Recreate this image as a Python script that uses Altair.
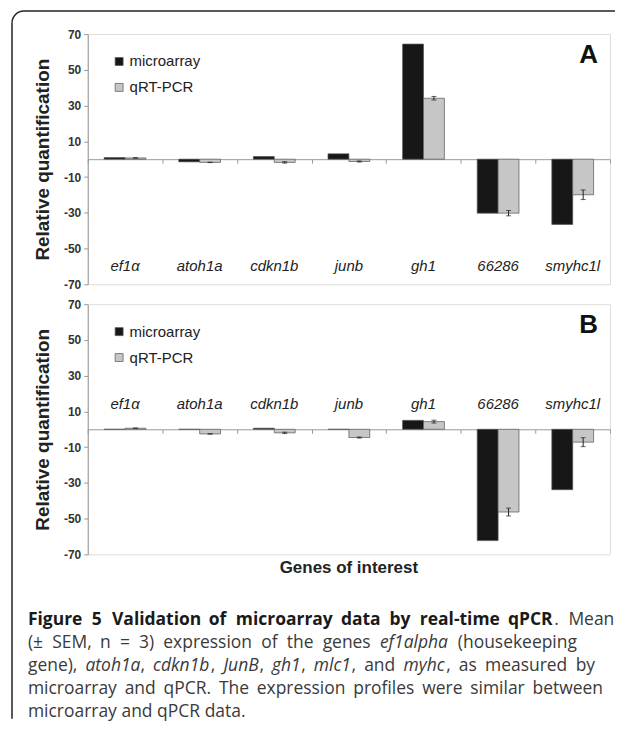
import altair as alt
import pandas as pd

genes = ["ef1α", "atoh1a", "cdkn1b", "junb", "gh1", "66286", "smyhc1l"]
series = ["microarray", "qRT-PCR"]

a_micro = [0.9, -1.5, 1.5, 3.0, 64.4, -30.2, -36.5]
a_qpcr = [0.7, -1.8, -1.8, -1.3, 34.1, -30.2, -19.9]
a_err = [0.1, 0.1, 0.4, 0.3, 1.0, 1.5, 2.7]

b_micro = [0.0, 0.0, 0.6, 0.0, 5.0, -62.3, -33.8]
b_qpcr = [0.6, -2.6, -2.0, -4.6, 4.3, -46.3, -7.2]
b_err = [0.1, 0.1, 0.4, 0.3, 0.8, 2.2, 2.5]

y_ticks = [-70, -50, -30, -10, 10, 30, 50, 70]

# caption: list of lines, each a list of (text, style)
caption_lines = [
    [("Figure 5 Validation of microarray data by real-time qPCR", "bold"), (". Mean", "normal")],
    [("(± SEM, n = 3) expression of the genes ", "normal"), ("ef1alpha", "italic"), (" (housekeeping", "normal")],
    [("gene), ", "normal"), ("atoh1a", "italic"), (", ", "normal"), ("cdkn1b", "italic"), (", ", "normal"),
     ("JunB", "italic"), (", ", "normal"), ("gh1", "italic"), (", ", "normal"), ("mlc1", "italic"),
     (", and ", "normal"), ("myhc", "italic"), (", as measured by", "normal")],
    [("microarray and qPCR. The expression profiles were similar between", "normal")],
    [("microarray and qPCR data.", "normal")],
]

# ---- layout (page pixels) ----
W, H = 524, 251
PX, PY_TOP, PY_BOT = 87, 32, 303
FONT = "Liberation Sans"
CAP_FONT, CAP_SIZE = "Open Sans", 17.5
cap_left = 27
cap_y = [620, 643, 666, 689, 712]
cap_right = [615, 578, 596, 604, None]  # line ends

_W = {' ': 532, ',': 502, '.': 545, '(': 608, ')': 608, '±': 1171, '=': 1171, '-': 659,
      'a': 1139, 'b': 1255, 'c': 975, 'd': 1255, 'e': 1149, 'f': 694, 'g': 1122, 'h': 1257, 'i': 518,
      'j': 518, 'k': 1075, 'l': 518, 'm': 1905, 'n': 1257, 'o': 1237, 'p': 1255, 'q': 1255, 'r': 836,
      's': 977, 't': 723, 'u': 1257, 'v': 1026, 'w': 1593, 'x': 1073, 'y': 1028,
      'S': 1096, 'E': 1139, 'M': 1808, 'B': 1300, 'C': 1298, 'J': 545, 'P': 1217, 'R': 1282, 'T': 1124,
      'F': 1059, 'V': 1208}
_STYLE_K = {"normal": 1.0, "italic": 0.97, "bold": 1.075}


def text_w(s, style):
    tot = 0
    for ch in s:
        tot += _W.get(ch, 1171 if ch.isdigit() else 1150)
    return tot / 2048 * CAP_SIZE * _STYLE_K[style]


def layout_line(segs, left, right):
    tokens, cur = [], []
    for text, style in segs:
        parts = text.split(" ")
        for i, p in enumerate(parts):
            if i > 0:
                if cur:
                    tokens.append(cur)
                cur = []
            if p:
                cur.append((p, style))
    if cur:
        tokens.append(cur)
    sp = text_w(" ", "normal")
    natural = sum(text_w(p, s) for tok in tokens for p, s in tok) + sp * (len(tokens) - 1)
    extra = 0.0
    if right is not None and len(tokens) > 1:
        extra = (right - left - natural) / (len(tokens) - 1)
    out, x = [], left
    for tok in tokens:
        for p, s in tok:
            out.append((p, s, x))
            x += text_w(p, s)
        x += sp + extra
    return out


def frame(micro, qpcr, err):
    rows = []
    for g, m, q, e in zip(genes, micro, qpcr, err):
        rows.append({"gene": g, "series": "microarray", "value": m, "lo": None, "hi": None})
        rows.append({"gene": g, "series": "qRT-PCR", "value": q, "lo": q - e, "hi": q + e})
    return pd.DataFrame(rows)


def panel(micro, qpcr, err, letter, label_y):
    df = frame(micro, qpcr, err)
    xenc = alt.X("gene:N", sort=genes, scale=alt.Scale(paddingInner=0, paddingOuter=0),
                 axis=alt.Axis(orient="bottom", offset=-H / 2, title=None, labels=False,
                               domainColor="#9a9a9a", tickColor="#9a9a9a", tickSize=4,
                               tickBand="extent", domainWidth=1, tickWidth=1))
    xoff = alt.XOffset("series:N", sort=series, scale=alt.Scale(domain=series, paddingOuter=0.786, paddingInner=0))
    yscale = alt.Scale(domain=[-70, 70], nice=False, zero=False)
    yaxis = alt.Axis(values=y_ticks, grid=False, tickSize=4, domainColor="#9a9a9a", tickColor="#9a9a9a",
                     labelFont=FONT, labelFontWeight="bold", labelFontSize=12, labelColor="#333",
                     labelPadding=3, labelOverlap=False, labelFlush=False, labelExpr="'' + datum.value",
                     title="Relative quantification", titleFont=FONT,
                     titleFontWeight="bold", titleFontSize=19, titleColor="#222", titlePadding=11)
    base = alt.Chart(df)
    bars = base.mark_bar(stroke="#555", strokeWidth=0.7).encode(
        x=xenc, xOffset=xoff,
        y=alt.Y("value:Q", scale=yscale, axis=yaxis),
        y2=alt.datum(0),
        color=alt.Color("series:N", sort=series,
                        scale=alt.Scale(domain=series, range=["#171717", "#c6c6c6"]),
                        legend=alt.Legend(title=None, orient="none", legendX=24, legendY=20,
                                          symbolType="square", symbolSize=64, symbolStrokeColor="#555",
                                          symbolStrokeWidth=0.7, labelFont=FONT, labelFontSize=15,
                                          labelColor="#222", rowPadding=10, labelOffset=3)),
    )
    eb = base.transform_filter("datum.series == 'qRT-PCR'")
    rule = eb.mark_rule(color="#222", strokeWidth=1).encode(
        x=xenc, xOffset=xoff, y=alt.Y("lo:Q", scale=yscale, axis=yaxis), y2="hi:Q")
    cap_lo = eb.mark_tick(color="#222", thickness=1, size=5, orient="horizontal").encode(
        x=xenc, xOffset=xoff, y=alt.Y("lo:Q", scale=yscale, axis=yaxis))
    cap_hi = eb.mark_tick(color="#222", thickness=1, size=5, orient="horizontal").encode(
        x=xenc, xOffset=xoff, y=alt.Y("hi:Q", scale=yscale, axis=yaxis))
    labels = alt.Chart(pd.DataFrame({"gene": genes})).mark_text(
        font=FONT, fontStyle="italic", fontSize=15, color="#222"
    ).encode(x=xenc, y=alt.YDatum(label_y, scale=yscale, axis=yaxis), text="gene:N")
    one = alt.Chart(pd.DataFrame({"t": [letter]}))
    letter_mark = one.mark_text(font=FONT, fontWeight="bold", fontSize=26, color="#111", align="right",
                                baseline="middle").encode(x=alt.value(W - 12), y=alt.value(21), text="t:N")
    return [bars, rule, cap_lo, cap_hi, labels, letter_mark]


# figure box (top-left rounded corner, top and left edges), relative to top plot origin
BX, BY, R = 11 - PX, 8.75 - PY_TOP, 12
dummy = alt.Chart(pd.DataFrame({"t": [0]}))
box_top = dummy.mark_rule(color="#222", strokeWidth=1.5).encode(
    x=alt.value(BX + R), x2=alt.value(616 - PX), y=alt.value(BY))
box_left = dummy.mark_rule(color="#222", strokeWidth=1.5).encode(
    x=alt.value(BX), y=alt.value(BY + R), y2=alt.value(719 - PY_TOP))
box_corner = dummy.mark_arc(color="#222", radius=R + 0.75, radius2=R - 0.75,
                            theta=4.712389, theta2=6.283185).encode(
    x=alt.value(BX + R), y=alt.value(BY + R))

top_layers = panel(a_micro, a_qpcr, a_err, "A", -60)
top = alt.layer(box_top, box_left, box_corner, *top_layers).properties(width=W, height=H)

bot_layers = panel(b_micro, b_qpcr, b_err, "B", 14)
xtitle = alt.Chart(pd.DataFrame({"t": ["Genes of interest"]})).mark_text(
    font=FONT, fontWeight="bold", fontSize=17, color="#222", baseline="middle"
).encode(x=alt.value(W / 2), y=alt.value(568 - PY_BOT), text="t:N")

cap_rows = []
for segs, yy, rr in zip(caption_lines, cap_y, cap_right):
    for text, style, xx in layout_line(segs, cap_left, rr):
        cap_rows.append({"text": text, "style": style, "x": xx - PX, "y": yy - PY_BOT})
cap_df = pd.DataFrame(cap_rows)
cap_layers = []
for style, weight, fstyle, color in [("bold", "bold", "normal", "#1a1a1a"), ("normal", "normal", "normal", "#3a3a3a"),
                                     ("italic", "normal", "italic", "#3a3a3a")]:
    sub = cap_df[cap_df["style"] == style]
    cap_layers.append(
        alt.Chart(sub).mark_text(font=CAP_FONT, fontSize=CAP_SIZE, fontWeight=weight, fontStyle=fstyle,
                                 color=color, align="left", baseline="middle").encode(
            x=alt.X("x:Q", scale=None), y=alt.Y("y:Q", scale=None), text="text:N")
    )

bottom = alt.layer(*bot_layers, xtitle, *cap_layers).properties(width=W, height=H)

chart = alt.vconcat(top, bottom, spacing=20, bounds="flush").resolve_scale(
    color="independent", x="independent", y="independent", xOffset="independent"
).resolve_legend(color="independent").properties(
    padding={"left": 2, "top": 0, "right": 0, "bottom": 0}
).configure_view(stroke="#9a9a9a", strokeWidth=1).configure_axisY(labelOverlap=False).configure(background="white")

chart.save("out.html", embed_options={"renderer": "svg", "actions": False})
